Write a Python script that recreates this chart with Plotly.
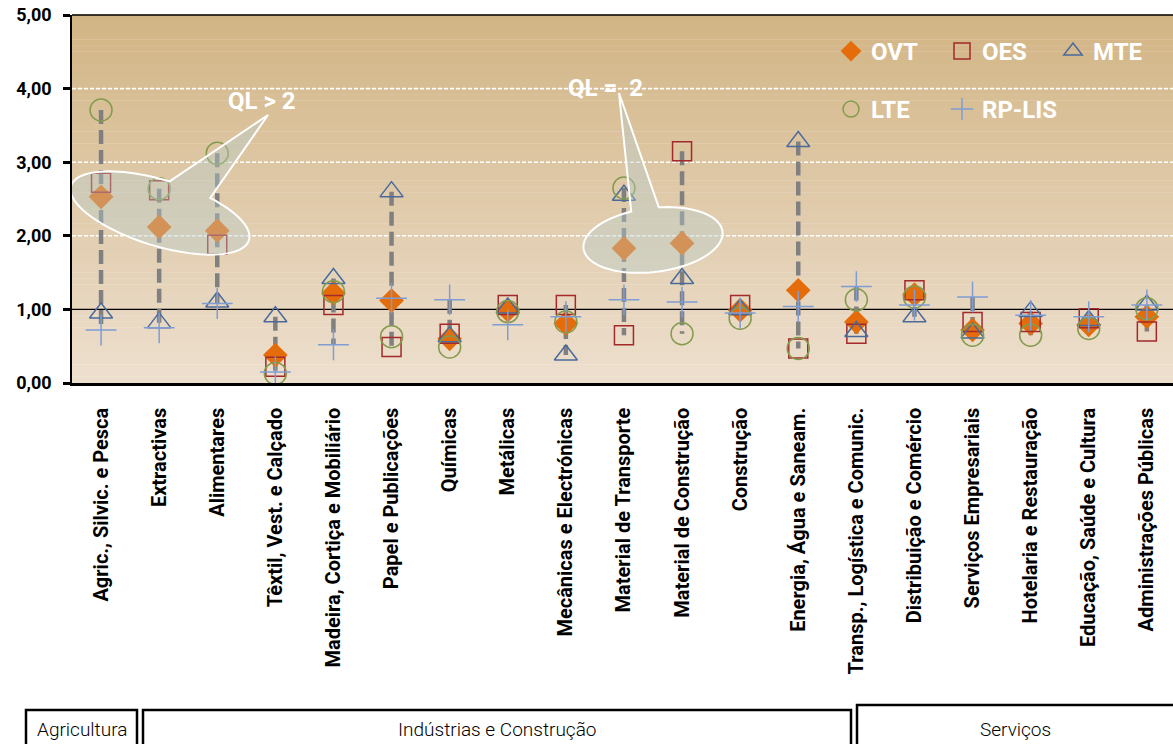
import numpy as np
import plotly.graph_objects as go

# ---------------------------------------------------------------- data
categories = [
    "Agric., Silvic. e Pesca", "Extractivas", "Alimentares",
    "Têxtil, Vest. e Calçado", "Madeira, Cortiça e Mobiliário",
    "Papel e Publicações", "Químicas", "Metálicas",
    "Mecânicas e Electrónicas", "Material de Transporte",
    "Material de Construção", "Construção", "Energia, Água e Saneam.",
    "Transp., Logística e Comunic.", "Distribuição e Comércio",
    "Serviços Empresariais", "Hotelaria e Restauração",
    "Educação, Saúde e Cultura", "Administrações Públicas",
]

ovt    = [2.53, 2.12, 2.07, 0.38, 1.22, 1.12, 0.60, 0.99, 0.81, 1.83,
          1.90, 0.99, 1.26, 0.83, 1.20, 0.72, 0.81, 0.79, 0.90]
oes    = [2.72, 2.62, 1.88, 0.22, 1.06, 0.49, 0.67, 1.06, 1.06, 0.65,
          3.15, 1.06, 0.47, 0.67, 1.26, 0.83, 0.83, 0.88, 0.70]
mte    = [0.95, 0.82, 1.10, 0.90, 1.42, 2.60, 0.63, 1.02, 0.38, 2.55,
          1.42, 1.00, 3.28, 0.70, 0.90, 0.68, 0.97, 0.85, 1.06]
lte    = [3.71, 2.64, 3.12, 0.13, 1.24, 0.63, 0.49, 0.97, 0.83, 2.65,
          0.67, 0.88, 0.47, 1.13, 1.17, 0.65, 0.65, 0.74, 1.01]
rp_lis = [0.72, 0.75, 1.08, 0.15, 0.52, 1.15, 1.13, 0.79, 0.90, 1.13,
          1.10, 0.95, 1.04, 1.31, 1.06, 1.17, 0.92, 0.90, 1.06]

y_ticks = [0, 1, 2, 3, 4, 5]
grid_levels = [2, 3, 4]
reference_level = 1

sectors = ["Agricultura", "Indústrias e Construção", "Serviços"]

# ---------------------------------------------------------------- layout constants
W, H = 1173, 744
ML, MR, MT, MB = 72, 0, 15, 361
PW, PH = W - ML - MR, H - MT - MB
X_RANGE = [-0.5, 18.45]
Y_RANGE = [0, 5]

FONT = "Roboto, Liberation Sans, Arial, sans-serif"


def px_to_data(px, py):
    x = X_RANGE[0] + (px - ML) / PW * (X_RANGE[1] - X_RANGE[0])
    y = Y_RANGE[0] + (MT + PH - py) / PH * (Y_RANGE[1] - Y_RANGE[0])
    return x, y


def px_to_paper(px, py):
    return (px - ML) / PW, (MT + PH - py) / PH


def callout_path(cx, cy, a, b, rot_deg, t_from, t_to, tip):
    """Rotated ellipse (screen pixels) with a pointed tail, as an SVG path in data units."""
    th = np.radians(rot_deg)
    ts = np.radians(np.linspace(t_from, t_to, 90))
    ux, uy = np.cos(th), np.sin(th)
    vx, vy = -np.sin(th), np.cos(th)
    xs = cx + a * np.cos(ts) * ux + b * np.sin(ts) * vx
    ys = cy + a * np.cos(ts) * uy + b * np.sin(ts) * vy
    pts = [px_to_data(x, y) for x, y in zip(xs, ys)] + [px_to_data(*tip)]
    return "M" + " L".join(f"{x:.4f},{y:.4f}" for x, y in pts) + " Z"


fig = go.Figure()

# high-low connectors spanning all five indicators per sector
series = [ovt, oes, mte, lte, rp_lis]
hx, hy = [], []
for i in range(len(categories)):
    vals = [s[i] for s in series]
    hx += [i, i, None]
    hy += [max(vals), min(vals), None]
fig.add_trace(go.Scatter(
    x=hx, y=hy, mode="lines", showlegend=False, hoverinfo="skip",
    line=dict(color="#808080", width=4.5, dash="14px,6px"),
))

xi = list(range(len(categories)))
marker_specs = [
    ("OVT", ovt, dict(symbol="diamond", size=19, color="#E46C0A",
                      line=dict(width=0)), "legend"),
    ("OES", oes, dict(symbol="square-open", size=19, color="#A3292B",
                      line=dict(width=1.5)), "legend"),
    ("MTE", mte, dict(symbol="triangle-up-open", size=20, color="#4A6A9B",
                      line=dict(width=1.5)), "legend"),
    ("LTE", lte, dict(symbol="circle-open", size=22, color="#849B4E",
                      line=dict(width=1.5)), "legend2"),
    ("RP-LIS", rp_lis, dict(symbol="cross-thin-open", size=22, color="#7F9DD3",
                            line=dict(width=1.5, color="#7F9DD3")), "legend2"),
]
for name, vals, mk, lg in marker_specs:
    fig.add_trace(go.Scatter(
        x=xi, y=vals, mode="markers", name=name, marker=mk, legend=lg,
        legendwidth=110 if name == "RP-LIS" else None,
    ))

shapes = []

# vertical gradient background
top_c = np.array([210, 181, 133])
bot_c = np.array([238, 224, 207])
n_bands = 60
for k in range(n_bands):
    f = (k + 0.5) / n_bands
    c = top_c + (bot_c - top_c) * f
    shapes.append(dict(
        type="rect", xref="paper", yref="paper", x0=0, x1=1,
        y0=1 - (k + 1) / n_bands, y1=1 - k / n_bands + 0.001,
        fillcolor=f"rgb({int(c[0])},{int(c[1])},{int(c[2])})",
        line=dict(width=0), layer="below",
    ))

# dashed white grid, solid reference line at QL = 1, top border
for g in grid_levels:
    shapes.append(dict(type="line", xref="paper", yref="y", x0=0, x1=1, y0=g, y1=g,
                       line=dict(color="white", width=1.6, dash="4px,2px"),
                       layer="below"))
shapes.append(dict(type="line", xref="paper", yref="y", x0=0, x1=1,
                   y0=reference_level, y1=reference_level,
                   line=dict(color="black", width=1.2), layer="below"))
shapes.append(dict(type="line", xref="paper", yref="paper", x0=0, x1=1, y0=1, y1=1,
                   line=dict(color="black", width=1.5), layer="below"))

# callouts
callout_style = dict(type="path", xref="x", yref="y",
                     fillcolor="rgba(182,205,205,0.4)",
                     line=dict(color="white", width=2), layer="above")
shapes.append(dict(path=callout_path(160, 213, 93, 33, 17, -62, 270, (268, 115)),
                   **callout_style))
shapes.append(dict(path=callout_path(653, 240, 70, 32, -7, -82, 255, (619, 93)),
                   **callout_style))

# sector boxes under the axis
boxes = [(26, 137, 710), (143, 851, 710), (857, 1185, 705)]
for x0, x1, top in boxes:
    px0, py0 = px_to_paper(x0, top)
    px1, py1 = px_to_paper(x1, 760)
    shapes.append(dict(type="rect", xref="paper", yref="paper",
                       x0=px0, x1=px1, y0=py1, y1=py0,
                       line=dict(color="black", width=2.5), fillcolor="white"))

annotations = []
for (x0, x1, top), label in zip(boxes, sectors):
    cx = (x0 + min(x1, W)) / 2
    ax, ay = px_to_paper(cx, 729)
    annotations.append(dict(x=ax, y=ay, xref="paper", yref="paper", text=label,
                            showarrow=False, xanchor="center", yanchor="middle",
                            font=dict(family=FONT, size=19, color="black", weight=300)))

for text, (px, py) in [("QL > 2", (262, 101)), ("QL =  2", (605, 88))]:
    dx, dy = px_to_data(px, py)
    annotations.append(dict(x=dx, y=dy, xref="x", yref="y", text=f"<b>{text}</b>",
                            showarrow=False, xanchor="center", yanchor="middle",
                            font=dict(family=FONT, size=24, color="white")))

legend_common = dict(
    orientation="h", xanchor="left", yanchor="top",
    bgcolor="rgba(0,0,0,0)", borderwidth=0,
    font=dict(family=FONT, size=24, color="white", weight="bold"),
    entrywidth=66, entrywidthmode="pixels", itemwidth=30,
)
lx, ly1 = px_to_paper(831, 29)
_, ly2 = px_to_paper(831, 87)

fig.update_layout(
    width=W, height=H,
    margin=dict(l=ML, r=MR, t=MT, b=MB, pad=0),
    paper_bgcolor="white", plot_bgcolor="rgba(0,0,0,0)",
    separators=",.",
    showlegend=True,
    legend=dict(x=lx, y=ly1, **legend_common),
    legend2=dict(x=lx, y=ly2, **legend_common),
    xaxis=dict(
        range=X_RANGE, tickmode="array", tickvals=xi, ticktext=categories,
        tickangle=-90, showgrid=False, zeroline=False,
        showline=True, linecolor="black", linewidth=2.5, ticks="",
        ticklabelstandoff=14,
        tickfont=dict(family=FONT, size=20, color="black", weight="bold"),
    ),
    yaxis=dict(
        range=Y_RANGE, tickmode="array", tickvals=y_ticks, tickformat=".2f",
        showgrid=False, zeroline=False,
        showline=True, linecolor="black", linewidth=1.5,
        ticks="outside", ticklen=7, tickwidth=2.5, tickcolor="black",
        ticklabelstandoff=8,
        tickfont=dict(family=FONT, size=18, color="black", weight="bold"),
    ),
    shapes=shapes,
    annotations=annotations,
)

fig.write_html("out.html")
